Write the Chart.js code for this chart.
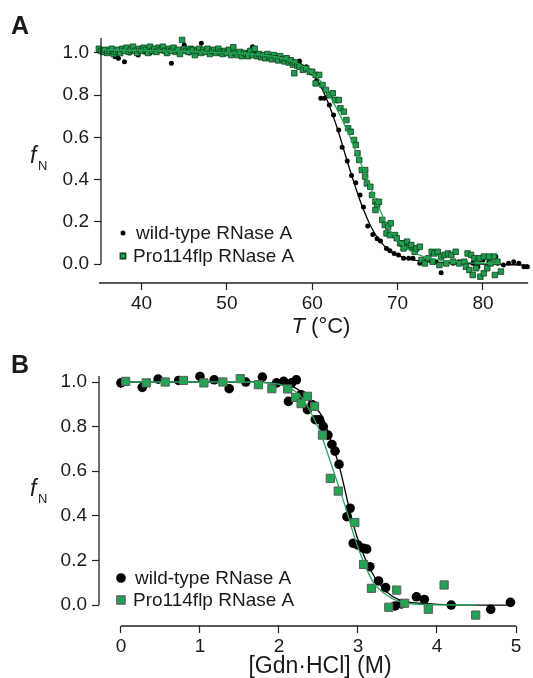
<!DOCTYPE html>
<html>
<head>
<meta charset="utf-8">
<script src="https://cdn.jsdelivr.net/npm/chart.js@4.4.1/dist/chart.umd.min.js"></script>
<style>
  body { margin: 0; background: #fff; }
  .panel { position: absolute; left: 0; width: 533px; height: 339px; }
</style>
</head>
<body>
<div class="panel" style="top:0"><canvas id="chartA" width="533" height="339"></canvas></div>
<div class="panel" style="top:339px"><canvas id="chartB" width="533" height="339"></canvas></div>
<script>
// ================================================================
//  DATA
// ================================================================
// --- panel A: thermal denaturation, T (°C) vs f_N ---
const wtT = [35.3, 35.7, 36.3, 36.9, 37.3, 38.0, 38.6, 39.2, 39.6, 40.3, 41.0, 41.7, 42.3, 42.9, 43.5, 44.2,
  45.0, 45.6, 46.3, 47.0, 47.6, 48.2, 48.9, 49.5, 50.0, 50.7, 51.3, 51.9, 52.5, 53.0, 53.5, 54.2, 54.8,
  55.4, 56.0, 56.6, 57.2, 57.8, 58.5, 59.3, 59.9, 60.5, 61.0, 61.4, 62.0, 62.5, 63.1, 63.5, 64.1, 64.6,
  65.1, 65.6, 66.0, 66.5, 67.1, 67.6, 68.0, 68.7, 69.1, 69.6, 70.1, 70.7, 71.3, 71.8, 72.6, 73.2, 73.8,
  74.5, 75.1, 75.7, 76.5, 77.2, 78.0, 78.8, 79.4, 80.0, 80.7, 81.5, 81.7, 82.4, 83.0, 83.6, 84.2, 84.8, 85.2];
const wtF = [1.014, 1.0, 1.005, 0.982, 0.975, 0.959, 1.0, 1.01, 0.991, 1.005, 1.0, 1.006, 1.01, 1.0, 0.951, 1.01,
  1.038, 1.0, 1.01, 1.046, 1.02, 1.005, 1.0, 1.01, 1.014, 0.995, 1.0, 0.99, 1.005, 1.03, 1.0, 0.99, 0.985,
  0.975, 0.98, 0.97, 0.965, 0.96, 0.962, 0.935, 0.905, 0.87, 0.785, 0.785, 0.754, 0.706, 0.635, 0.553, 0.488, 0.419,
  0.385, 0.327, 0.27, 0.18, 0.14, 0.12, 0.109, 0.074, 0.063, 0.05, 0.043, 0.027, 0.027, 0.027, 0.003, 0.011, 0.019,
  0.011, -0.041, 0.003, 0.003, 0.011, 0.003, 0.003, -0.013, 0.019, 0.011, 0.035, 0.003, -0.005, 0.003, 0.011, 0.003, -0.013, -0.013];

const flpT = [35.0, 35.25, 35.5, 35.75, 36.0, 36.25, 36.5, 36.75, 37.0, 37.25, 37.5, 37.75, 38.0, 38.25, 38.5, 38.75,
  39.0, 39.25, 39.5, 39.75, 40.0, 40.25, 40.5, 40.75, 41.0, 41.25, 41.5, 41.75, 42.0, 42.25, 42.5, 42.75,
  43.0, 43.25, 43.5, 43.75, 44.0, 44.25, 44.5, 44.75, 45.0, 45.25, 45.5, 45.75, 46.0, 46.25, 46.5, 46.75,
  47.0, 47.25, 47.5, 47.75, 48.0, 48.25, 48.5, 48.75, 49.0, 49.25, 49.5, 49.75, 50.0, 50.25, 50.5, 50.75,
  51.0, 51.25, 51.5, 51.75, 52.0, 52.25, 52.5, 52.75, 53.0, 53.25, 53.5, 53.75, 54.0, 54.25, 54.5, 54.75,
  55.0, 55.25, 55.5, 55.75, 56.0, 56.25, 56.5, 56.75, 57.0, 57.25, 57.5, 57.75, 57.9, 58.0, 58.25, 58.5,
  58.9, 59.3, 59.7, 60.0, 60.4, 60.4, 60.8, 61.2, 61.6, 62.0, 62.4, 62.7, 63.1, 63.3, 63.7, 64.0,
  64.2, 64.5, 64.9, 65.1, 65.3, 65.5, 65.8, 66.2, 66.2, 66.4, 66.8, 67.0, 67.4, 67.6, 67.8, 67.4,
  68.2, 68.5, 68.9, 69.2, 68.7, 69.1, 69.7, 69.9, 70.3, 70.7, 71.1, 71.4, 71.8, 72.0, 70.5, 71.6,
  72.2, 72.6, 70.7, 72.8, 73.2, 73.6, 74.0, 74.3, 74.7, 75.1, 75.5, 75.9, 76.3, 76.8, 74.1, 74.9,
  75.7, 76.5, 77.2, 77.8, 78.2, 78.6, 79.0, 79.4, 78.0, 78.4, 78.8, 79.2, 79.7, 80.1, 80.5, 80.9,
  81.3, 81.7, 82.1, 81.4, 79.6, 80.1, 80.7];
const flpF = [1.02, 1.01, 1.005, 1.015, 1.0, 1.01, 1.02, 0.995, 1.005, 1.015, 1.0, 1.02, 1.01, 1.025, 1.005, 1.015,
  1.03, 1.01, 1.0, 1.02, 1.01, 1.025, 1.015, 1.0, 1.03, 1.01, 1.02, 1.005, 1.025, 1.015, 1.03, 1.01,
  1.0, 1.02, 1.01, 1.025, 1.005, 1.015, 0.995, 1.062, 1.02, 1.01, 1.005, 1.02, 1.015, 0.99, 1.01, 1.02,
  1.0, 1.015, 1.005, 1.02, 0.995, 1.01, 1.015, 1.0, 1.02, 1.005, 0.995, 1.01, 1.0, 1.015, 0.99, 1.027,
  1.0, 0.99, 1.005, 0.985, 1.0, 0.995, 0.985, 1.01, 0.99, 1.02, 0.985, 0.995, 0.98, 0.99, 0.975, 0.995,
  0.98, 0.97, 0.99, 0.975, 0.965, 0.985, 0.97, 0.96, 0.975, 0.955, 0.965, 0.945, 0.904, 0.955, 0.94, 0.935,
  0.92, 0.927, 0.911, 0.911, 0.896, 0.856, 0.896, 0.848, 0.825, 0.80, 0.809, 0.777, 0.777, 0.738, 0.722, 0.682,
  0.643, 0.627, 0.588, 0.564, 0.525, 0.493, 0.445, 0.445, 0.414, 0.382, 0.366, 0.327, 0.295, 0.28, 0.295, 0.256,
  0.209, 0.185, 0.177, 0.193, 0.145, 0.137, 0.137, 0.122, 0.098, 0.098, 0.106, 0.082, 0.074, 0.058, 0.098, 0.09,
  0.074, 0.082, 0.074, 0.019, 0.003, 0.027, 0.058, 0.05, 0.058, 0.035, 0.043, 0.05, 0.043, 0.058, 0.011, -0.005,
  0.003, 0.011, 0.003, 0.011, 0.05, 0.043, 0.027, 0.011, -0.013, -0.028, -0.052, -0.02, -0.06, -0.044, -0.02, 0.003,
  0.035, 0.011, -0.036, -0.052, 0.027, 0.035, 0.035];

const wtFitT = [35.3, 40, 45, 50, 53, 55, 57, 58, 59, 60, 60.5, 61, 61.5, 62, 62.5, 63, 63.5, 64, 64.5, 65,
  65.5, 66, 66.5, 67, 67.5, 68, 69, 70, 71, 72, 74, 76, 80, 85.3];
const wtFitF = [1.012, 1.01, 1.007, 1.0, 0.995, 0.99, 0.975, 0.962, 0.94, 0.905, 0.878, 0.843, 0.80, 0.75, 0.695,
  0.635, 0.568, 0.5, 0.435, 0.372, 0.312, 0.258, 0.21, 0.168, 0.133, 0.105, 0.066, 0.042, 0.027, 0.018, 0.01,
  0.006, 0.0, -0.005];
const flpFitT = [35.3, 40, 45, 50, 53, 55, 57, 58, 59, 60, 61, 61.5, 62, 62.5, 63, 63.5, 64, 64.5, 65, 65.5,
  66, 66.5, 67, 67.5, 68, 68.5, 69, 70, 71, 72, 73, 75, 78, 82];
const flpFitF = [1.015, 1.012, 1.008, 1.0, 0.995, 0.985, 0.97, 0.955, 0.935, 0.905, 0.865, 0.835, 0.80, 0.765,
  0.725, 0.685, 0.64, 0.595, 0.545, 0.495, 0.445, 0.395, 0.345, 0.295, 0.25, 0.205, 0.168, 0.113, 0.076, 0.052,
  0.036, 0.018, 0.007, 0.002];

// --- panel B: chemical denaturation, [Gdn·HCl] (M) vs f_N ---
const wtGdn = [0.0, 0.27, 0.47, 0.73, 1.0, 1.18, 1.37, 1.58, 1.79, 1.97, 2.06, 2.16, 2.22, 2.12, 2.28, 2.36,
  2.42, 2.46, 2.51, 2.56, 2.62, 2.67, 2.71, 2.76, 2.86, 2.90, 2.94, 3.0, 3.07, 3.11, 3.15, 3.26, 3.35,
  3.47, 3.55, 3.74, 3.84, 4.18, 4.68, 4.93];
const wtGdnF = [0.996, 0.976, 1.013, 1.007, 1.025, 1.01, 0.97, 1.0, 1.022, 0.996, 1.003, 0.996, 1.01, 0.913, 0.943, 0.876,
  0.898, 0.831, 0.831, 0.80, 0.762, 0.72, 0.69, 0.631, 0.396, 0.434, 0.277, 0.269, 0.254, 0.251, 0.172, 0.108, 0.078,
  -0.004, 0.005, 0.037, 0.025, 0.0, -0.019, 0.012];
const flpGdn = [0.06, 0.32, 0.56, 0.79, 1.05, 1.29, 1.51, 1.74, 1.91, 2.11, 2.21, 2.28, 2.36, 2.45, 2.55, 2.65,
  2.75, 2.96, 3.07, 3.17, 3.39, 3.49, 3.59, 3.89, 4.09, 4.49];
const flpGdnF = [1.003, 0.996, 1.0, 1.007, 0.996, 1.0, 1.015, 0.988, 0.97, 0.969, 0.931, 0.903, 0.936, 0.891, 0.762, 0.568,
  0.511, 0.37, 0.182, 0.075, -0.01, 0.067, 0.008, -0.019, 0.09, -0.045];

const wtGdnFitX = [0, 0.5, 1, 1.5, 1.8, 2.0, 2.2, 2.3, 2.4, 2.5, 2.56, 2.62, 2.69, 2.77, 2.84, 2.9, 2.98, 3.09,
  3.22, 3.36, 3.53, 3.78, 4.0, 4.5, 4.93];
const wtGdnFitF = [1.0, 1.0, 1.0, 1.0, 0.998, 0.993, 0.975, 0.95, 0.91, 0.87, 0.837, 0.775, 0.703, 0.613, 0.508,
  0.418, 0.314, 0.209, 0.12, 0.06, 0.022, 0.008, 0.003, 0.0, 0.0];
const flpGdnFitX = [0.06, 0.5, 1, 1.5, 1.8, 2.0, 2.2, 2.3, 2.4, 2.52, 2.65, 2.75, 2.86, 2.96, 3.07, 3.19, 3.36,
  3.62, 4.0, 4.5];
const flpGdnFitF = [1.0, 1.0, 1.0, 1.0, 0.997, 0.99, 0.96, 0.925, 0.865, 0.777, 0.643, 0.538, 0.418, 0.299, 0.194,
  0.104, 0.045, 0.008, 0.001, 0.0];

// --- axes ---
const fTicks = [0, 0.1, 0.2, 0.3, 0.4, 0.5, 0.6, 0.7, 0.8, 0.9, 1.0];
const fLabels = ['0.0', '', '0.2', '', '0.4', '', '0.6', '', '0.8', '', '1.0'];
const tempTicks = [40, 50, 60, 70, 80];
const gdnTicks = [0, 1, 2, 3, 4, 5];
const seriesNames = ['wild-type RNase A', 'Pro114flp RNase A'];

// ================================================================
//  HELPERS
// ================================================================
const FONT = "'Liberation Sans', Arial, Helvetica, sans-serif";
const INK = '#1a1a1a';
const pts = (xs, ys) => xs.map((x, i) => ({ x: x, y: ys[i] }));

// axis lines, titles, panel letter and in-plot legend
const decor = {
  id: 'decor',
  afterDraw(chart, args, o) {
    const ctx = chart.ctx, xs = chart.scales.x, ys = chart.scales.y, ca = chart.chartArea;
    ctx.save();
    ctx.strokeStyle = '#222'; ctx.lineWidth = 1.3;
    ctx.beginPath();
    ctx.moveTo(ca.left, ys.getPixelForValue(0)); ctx.lineTo(ca.left, ca.top);
    const xa = o.xFrom == null ? ca.left - 2 : xs.getPixelForValue(o.xFrom);
    ctx.moveTo(xa, ca.bottom); ctx.lineTo(xs.getPixelForValue(o.xTo), ca.bottom);
    ctx.stroke();

    ctx.fillStyle = INK;
    ctx.textBaseline = 'alphabetic';
    // panel letter
    ctx.font = 'bold 25px ' + FONT;
    ctx.fillText(o.letter, 11, 34);
    // y title: f with subscript N
    ctx.font = 'italic 23px ' + FONT;
    ctx.fillText('f', 30, o.fBase);
    ctx.font = '13px ' + FONT;
    ctx.fillText('N', 38, o.fBase + 7);
    // x title
    const size = o.xTitleSize;
    let w = 0;
    o.xTitle.forEach(p => { ctx.font = p.font + ' ' + size + 'px ' + FONT; w += ctx.measureText(p.text).width; });
    let x = o.xTitleX - w / 2;
    o.xTitle.forEach(p => {
      ctx.font = p.font + ' ' + size + 'px ' + FONT;
      ctx.fillText(p.text, x, o.xTitleY);
      x += ctx.measureText(p.text).width;
    });
    // legend
    ctx.font = '19px ' + FONT;
    ctx.textBaseline = 'middle';
    o.legend.forEach((it, i) => {
      const ds = chart.data.datasets[it.ds];
      ctx.fillStyle = ds.backgroundColor; ctx.strokeStyle = ds.borderColor || ds.backgroundColor;
      Chart.helpers.drawPoint(ctx, { pointStyle: ds.pointStyle, radius: ds.pointRadius, rotation: 0,
        borderWidth: ds.borderWidth || 0 }, it.x, it.y);
      ctx.fillStyle = INK;
      ctx.fillText(seriesNames[i], it.tx, it.y + 1);
    });
    ctx.restore();
  }
};

function yScale(min, max, width) {
  return {
    type: 'linear', min: min, max: max,
    afterFit: s => { s.width = width; },
    afterBuildTicks: s => { s.ticks = fTicks.map(v => ({ value: v })); },
    border: { display: false },
    grid: { drawOnChartArea: false, drawTicks: true, tickLength: 7, tickColor: '#222', tickWidth: 1.2 },
    ticks: { callback: (v, i) => fLabels[i], color: INK, padding: 5, font: { size: 19, family: FONT } }
  };
}

function xScale(min, max, height, tickVals) {
  return {
    type: 'linear', min: min, max: max,
    afterFit: s => { s.height = height; },
    afterBuildTicks: s => { s.ticks = tickVals.map(v => ({ value: v })); },
    border: { display: false },
    grid: { drawOnChartArea: false, drawTicks: true, tickLength: 7, tickColor: '#222', tickWidth: 1.2 },
    ticks: { callback: v => String(v), color: INK, padding: 2, maxRotation: 0, font: { size: 19, family: FONT } }
  };
}

function fitLine(data, color, order) {
  return { data: data, showLine: true, borderColor: color, borderWidth: 1.3, pointRadius: 0,
    cubicInterpolationMode: 'monotone', fill: false, order: order, clip: 6 };
}

// ================================================================
//  PANEL A
// ================================================================
new Chart(document.getElementById('chartA'), {
  type: 'scatter',
  data: {
    datasets: [
      { data: pts(wtT, wtF), pointStyle: 'circle', pointRadius: 2.5, backgroundColor: '#000',
        borderColor: '#000', borderWidth: 0, order: 3, clip: 6 },
      { data: pts(flpT, flpF), pointStyle: 'rect', pointRadius: 3.9, backgroundColor: '#1f9c4c',
        borderColor: '#0c3f1c', borderWidth: 0.8, order: 1, clip: 6 },
      fitLine(pts(wtFitT, wtFitF), '#000', 2),
      fitLine(pts(flpFitT, flpFitF), '#2aa35a', 0)
    ]
  },
  options: {
    responsive: false, animation: false, events: [],
    layout: { padding: { top: 38, right: 0, left: 0, bottom: 0 } },
    scales: { x: xScale(35.25, 85.3, 56, tempTicks), y: yScale(-0.09, 1.071, 101) },
    plugins: {
      legend: { display: false }, tooltip: { enabled: false },
      decor: {
        letter: 'A', fBase: 163, xFrom: null, xTo: 85.3,
        xTitle: [{ text: 'T', font: 'italic' }, { text: ' (°C)', font: 'normal' }],
        xTitleSize: 22, xTitleX: 321, xTitleY: 333,
        legend: [{ ds: 0, x: 123, y: 233, tx: 136 }, { ds: 1, x: 123, y: 256, tx: 133 }]
      }
    }
  },
  plugins: [decor]
});

// ================================================================
//  PANEL B
// ================================================================
new Chart(document.getElementById('chartB'), {
  type: 'scatter',
  data: {
    datasets: [
      { data: pts(wtGdn, wtGdnF), pointStyle: 'circle', pointRadius: 4.8, backgroundColor: '#000',
        borderColor: '#000', borderWidth: 0, order: 3, clip: 8 },
      { data: pts(flpGdn, flpGdnF), pointStyle: 'rect', pointRadius: 5.8, backgroundColor: '#22a550',
        borderColor: '#5a5a5a', borderWidth: 1, order: 1, clip: 8 },
      fitLine(pts(wtGdnFitX, wtGdnFitF), '#000', 2),
      fitLine(pts(flpGdnFitX, flpGdnFitF), '#2aa35a', 0)
    ]
  },
  options: {
    responsive: false, animation: false, events: [],
    layout: { padding: { top: 37, right: 17, left: 0, bottom: 0 } },
    scales: { x: xScale(-0.278, 5, 52, gdnTicks), y: yScale(-0.094, 1.027, 99) },
    plugins: {
      legend: { display: false }, tooltip: { enabled: false },
      decor: {
        letter: 'B', fBase: 157, xFrom: 0, xTo: 5,
        xTitle: [{ text: '[Gdn·HCl] (M)', font: 'normal' }],
        xTitleSize: 23, xTitleX: 320, xTitleY: 334,
        legend: [{ ds: 0, x: 121, y: 239, tx: 135 }, { ds: 1, x: 121, y: 261, tx: 133 }]
      }
    }
  },
  plugins: [decor]
});
</script>
</body>
</html>
